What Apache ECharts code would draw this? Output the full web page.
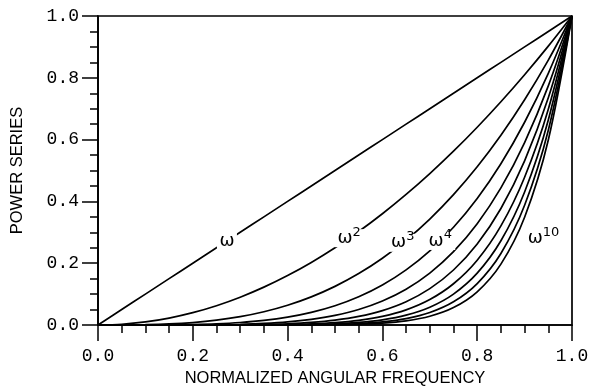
<!DOCTYPE html>
<html>
<head>
<meta charset="utf-8">
<script src="https://cdn.jsdelivr.net/npm/echarts@6/dist/echarts.min.js"></script>
<style>
  html, body { margin: 0; padding: 0; background: #fff; }
  #chart { width: 594px; height: 392px; }
</style>
</head>
<body>
<div id="chart"></div>
<script>
// normalized angular frequency, sampled every 0.05
const omega = [0, 0.05, 0.1, 0.15, 0.2, 0.25, 0.3, 0.35, 0.4, 0.45, 0.5,
  0.55, 0.6, 0.65, 0.7, 0.75, 0.8, 0.85, 0.9, 0.95, 1];

// curves, one per power
const pow1 = [0, 0.05, 0.1, 0.15, 0.2, 0.25, 0.3, 0.35, 0.4, 0.45, 0.5, 0.55, 0.6, 0.65, 0.7, 0.75, 0.8, 0.85, 0.9, 0.95, 1];
const pow2 = [0, 0.0025, 0.01, 0.0225, 0.04, 0.0625, 0.09, 0.1225, 0.16, 0.2025, 0.25, 0.3025, 0.36, 0.4225, 0.49, 0.5625, 0.64, 0.7225, 0.81, 0.9025, 1];
const pow3 = [0, 0.0001, 0.001, 0.0034, 0.008, 0.0156, 0.027, 0.0429, 0.064, 0.0911, 0.125, 0.1664, 0.216, 0.2746, 0.343, 0.4219, 0.512, 0.6141, 0.729, 0.8574, 1];
const pow4 = [0, 0, 0.0001, 0.0005, 0.0016, 0.0039, 0.0081, 0.015, 0.0256, 0.041, 0.0625, 0.0915, 0.1296, 0.1785, 0.2401, 0.3164, 0.4096, 0.522, 0.6561, 0.8145, 1];
const pow5 = [0, 0, 0, 0.0001, 0.0003, 0.001, 0.0024, 0.0053, 0.0102, 0.0185, 0.0313, 0.0503, 0.0778, 0.116, 0.1681, 0.2373, 0.3277, 0.4437, 0.5905, 0.7738, 1];
const pow6 = [0, 0, 0, 0, 0.0001, 0.0002, 0.0007, 0.0018, 0.0041, 0.0083, 0.0156, 0.0277, 0.0467, 0.0754, 0.1176, 0.178, 0.2621, 0.3771, 0.5314, 0.7351, 1];
const pow7 = [0, 0, 0, 0, 0, 0.0001, 0.0002, 0.0006, 0.0016, 0.0037, 0.0078, 0.0152, 0.028, 0.049, 0.0824, 0.1335, 0.2097, 0.3206, 0.4783, 0.6983, 1];
const pow8 = [0, 0, 0, 0, 0, 0, 0.0001, 0.0002, 0.0007, 0.0017, 0.0039, 0.0084, 0.0168, 0.0319, 0.0576, 0.1001, 0.1678, 0.2725, 0.4305, 0.6634, 1];
const pow9 = [0, 0, 0, 0, 0, 0, 0, 0.0001, 0.0003, 0.0008, 0.002, 0.0046, 0.0101, 0.0207, 0.0404, 0.0751, 0.1342, 0.2316, 0.3874, 0.6302, 1];
const pow10 = [0, 0, 0, 0, 0, 0, 0, 0, 0.0001, 0.0003, 0.001, 0.0025, 0.006, 0.0135, 0.0282, 0.0563, 0.1074, 0.1969, 0.3487, 0.5987, 1];

const curves = [pow1, pow2, pow3, pow4, pow5, pow6, pow7, pow8, pow9, pow10];

// curve labels: [series index, omega, value, exponent]
const curveLabels = [
  [0, 0.272, 0.272, ''],
  [1, 0.530, 0.281, '2'],
  [2, 0.643, 0.266, '3'],
  [3, 0.722, 0.272, '4']
];
const outerLabel = [9, 0.94, 0.28, '10'];

const xTicks = { min: 0, max: 1, interval: 0.2 };
const yTicks = { min: 0, max: 1, interval: 0.2 };

const chart = echarts.init(document.getElementById('chart'));

const richLabel = {
  w: { fontFamily: 'DejaVu Sans', fontSize: 18, color: '#000' },
  s: { fontFamily: 'DejaVu Sans', fontSize: 13, color: '#000', verticalAlign: 'bottom', padding: [0, 0, 12, 0] }
};

const series = curves.map((vals, i) => {
  const marks = [];
  curveLabels.filter(l => l[0] === i).forEach(l => {
    marks.push({
      coord: [l[1], l[2]],
      symbol: 'rect',
      symbolSize: [l[3] ? 30 : 20, 18],
      itemStyle: { color: '#fff' },
      label: {
        show: true,
        position: 'inside',
        formatter: l[3] ? '{w|ω}{s|' + l[3] + '}' : '{w|ω}',
        rich: richLabel
      }
    });
  });
  if (outerLabel[0] === i) {
    marks.push({
      coord: [outerLabel[1], outerLabel[2]],
      symbol: 'rect',
      symbolSize: [1, 1],
      itemStyle: { color: 'rgba(0,0,0,0)' },
      label: {
        show: true,
        position: 'inside',
        formatter: '{w|ω}{s|' + outerLabel[3] + '}',
        rich: richLabel
      }
    });
  }
  return {
    type: 'line',
    smooth: 0.3,
    symbol: 'none',
    lineStyle: { color: '#000', width: 1.7 },
    data: omega.map((x, k) => [x, vals[k]]),
    markPoint: marks.length ? { silent: true, data: marks, z: 5 } : undefined,
    z: 2
  };
});

const axisCommon = {
  type: 'value',
  axisLine: { show: true, onZero: false, lineStyle: { color: '#000', width: 1.7 } },
  axisTick: { show: true, inside: false, length: 16, lineStyle: { color: '#000', width: 1.5 } },
  minorTick: { show: true, splitNumber: 4, length: 8, lineStyle: { color: '#000', width: 1.5 } },
  splitLine: { show: false },
  minorSplitLine: { show: false },
  axisLabel: {
    color: '#000',
    fontFamily: 'Liberation Mono',
    fontSize: 18,
    formatter: v => v.toFixed(1)
  },
  nameLocation: 'middle',
  nameTextStyle: { fontFamily: 'Liberation Sans', fontSize: 16.5, color: '#000' }
};

chart.setOption({
  animation: false,
  backgroundColor: '#fff',
  grid: {
    left: 98, right: 22, top: 16, bottom: 58,
    show: true, borderColor: '#000', borderWidth: 1.7
  },
  xAxis: Object.assign({}, axisCommon, {
    min: xTicks.min, max: xTicks.max, interval: xTicks.interval,
    name: 'NORMALIZED ANGULAR FREQUENCY',
    nameGap: 45,
    axisLabel: Object.assign({}, axisCommon.axisLabel, { margin: 22 })
  }),
  yAxis: Object.assign({}, axisCommon, {
    min: yTicks.min, max: yTicks.max, interval: yTicks.interval,
    name: 'POWER SERIES',
    nameGap: 72,
    axisLabel: Object.assign({}, axisCommon.axisLabel, { margin: 19 })
  }),
  series: series
});
</script>
</body>
</html>
